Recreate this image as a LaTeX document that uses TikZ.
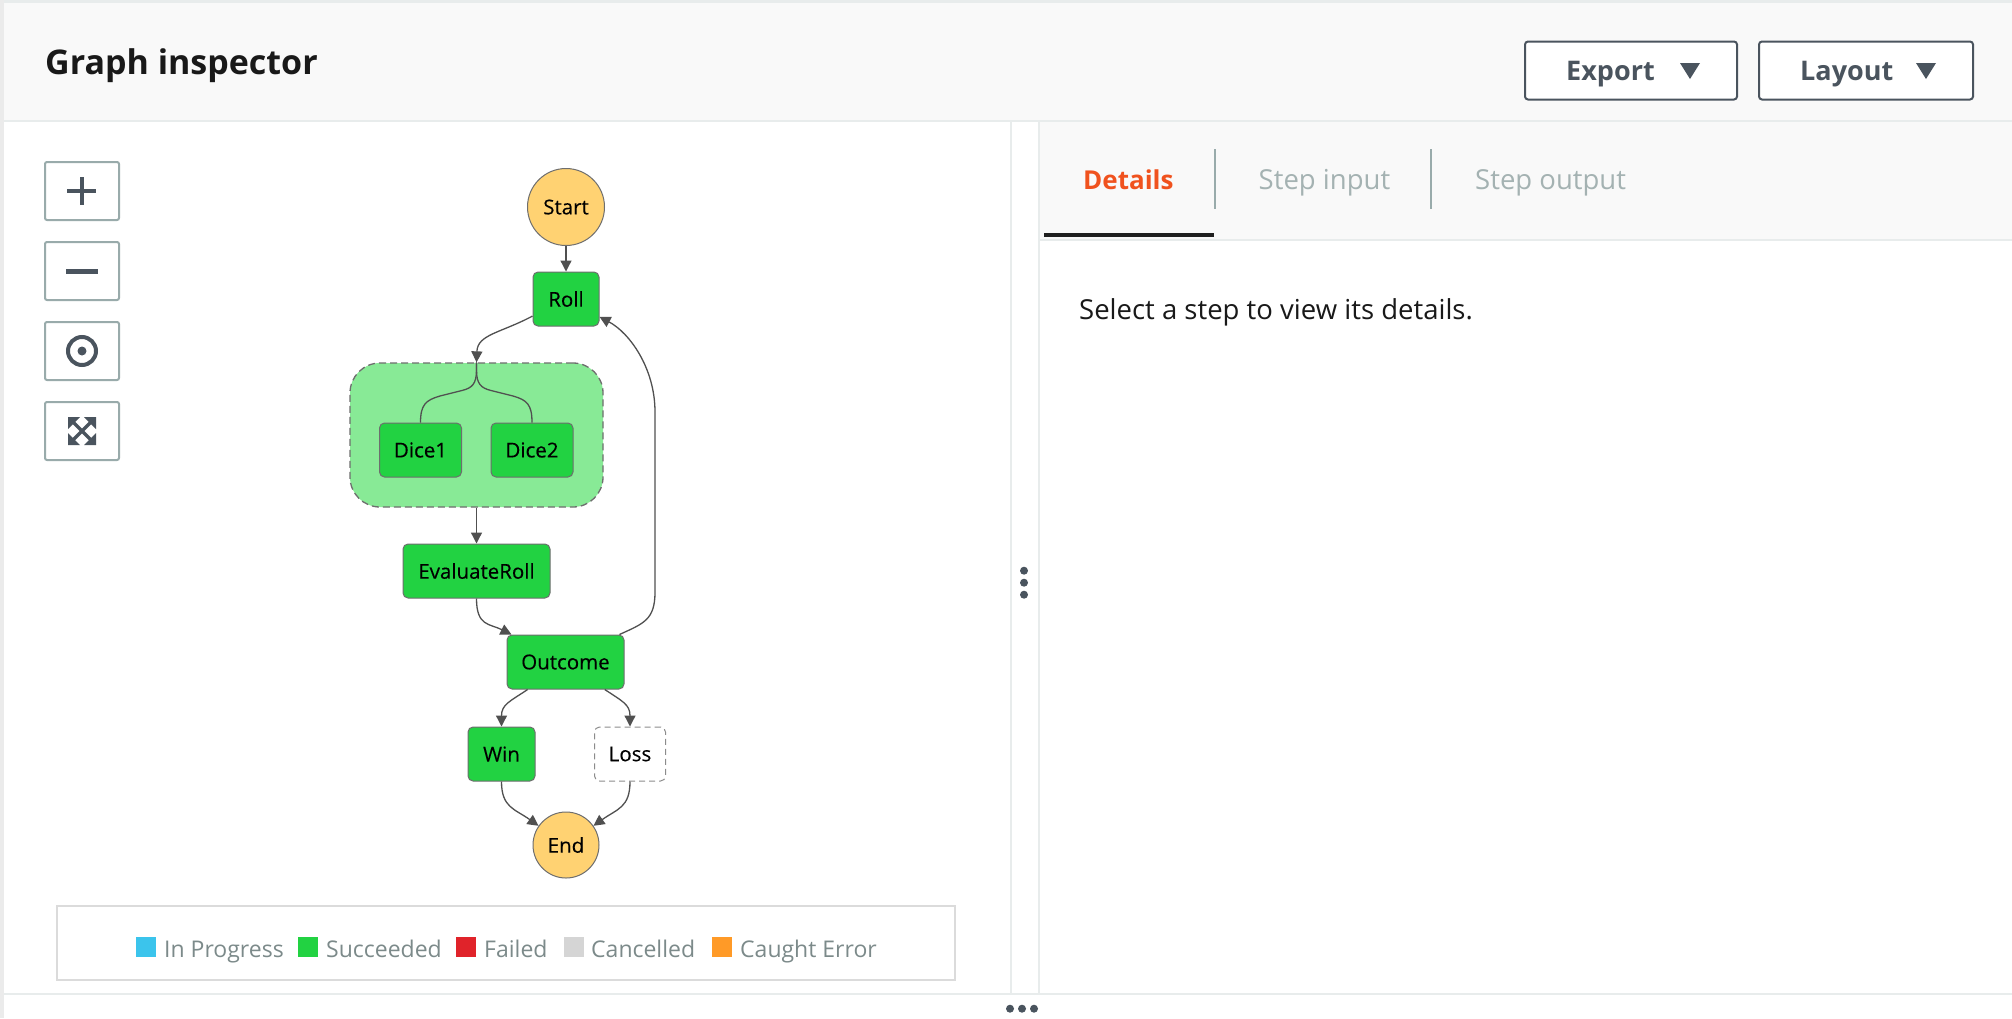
\documentclass[tikz,border=0pt]{standalone}
\usepackage{fontspec}
\setmainfont{Open Sans}
\newfontfamily\nodefont[FakeBold=0.25]{Open Sans}
\usetikzlibrary{arrows.meta,calc}
\definecolor{sgreen}{HTML}{22D242}
\definecolor{sgroup}{HTML}{88EA96}
\definecolor{yel}{HTML}{FFD272}
\definecolor{edge}{HTML}{505050}
\definecolor{bord}{HTML}{6E6E6E}
\definecolor{panel}{HTML}{F9F9F9}
\definecolor{rule}{HTML}{E8ECEC}
\definecolor{slate}{HTML}{4A545E}
\definecolor{btn}{HTML}{99ABAB}
\definecolor{legend}{HTML}{7C8A8A}
\definecolor{tabgray}{HTML}{A4B2B2}
\definecolor{dettab}{HTML}{F0521E}
\definecolor{swblue}{HTML}{3BC4EC}
\definecolor{swred}{HTML}{E0232A}
\definecolor{swgray}{HTML}{D5D5D5}
\definecolor{sworange}{HTML}{FF9A27}
\newcommand{\fs}[1]{\fontsize{#1}{#1}\selectfont}
\tikzset{
  stepbox/.style={rectangle,rounded corners=5pt,draw=bord,fill=sgreen,line width=1pt,inner sep=0pt,font=\nodefont\fs{20.5},text=black},
  endcircle/.style={circle,draw=bord,fill=yel,line width=1pt,inner sep=0pt,font=\nodefont\fs{20.5},text=black},
  conn/.style={draw=edge,line width=1.3pt,-{Triangle[length=11pt,width=11pt]}},
  plainconn/.style={draw=edge,line width=1.3pt},
  toolbtn/.style={rectangle,rounded corners=2pt,draw=btn,fill=white,line width=2pt,inner sep=0pt,minimum width=74pt,minimum height=58pt},
  headbtn/.style={rectangle,rounded corners=3pt,draw=slate,fill=white,line width=2pt,inner sep=0pt,minimum height=58pt},
  icon/.style={draw=slate,line width=4.5pt},
  swatch/.style={rectangle,inner sep=0pt,minimum width=20pt,minimum height=20pt},
  legendtext/.style={anchor=base west,inner sep=0pt,text=legend,font=\fs{23}},
  tabtext/.style={anchor=base west,inner sep=0pt,font=\fs{27.5}},
  dot/.style={circle,fill=slate,inner sep=0pt,minimum size=8pt}
}
\begin{document}
\begin{tikzpicture}[x=1pt,y=-1pt]
\useasboundingbox (0,0) rectangle (2012,1018);
\fill[white] (0,0) rectangle (2012,1018);
% header and panels
\fill[panel] (4,3) rectangle (2012,120);
\fill[panel] (1039,120) rectangle (2012,240);
\draw[rule,line width=2.5pt] (0,1.5) -- (2012,1.5);
\fill[black!8] (0,0) rectangle (3.5,1018);
\draw[rule,line width=2pt] (4,120.5) -- (2012,120.5);
\draw[rule,line width=2pt] (1039,240) -- (2012,240);
\draw[rule,line width=2pt] (1011,120) -- (1011,994);
\draw[rule,line width=2pt] (1039,120) -- (1039,994);
\draw[rule,line width=2pt] (4,994) -- (2012,994);
\node[anchor=base west,inner sep=0pt,font=\fs{34}\bfseries,text=black!90] (title) at (45,74) {Graph inspector};
% header buttons
\node[headbtn,minimum width=212pt] (export) at (1631,70.5) {};
\node[headbtn,minimum width=214pt] (layout) at (1866,70.5) {};
\node[anchor=base west,inner sep=0pt,font=\fs{27}\bfseries,text=slate] (exporttext) at (1566,80) {Export};
\node[anchor=base west,inner sep=0pt,font=\fs{27}\bfseries,text=slate] (layouttext) at (1800,80) {Layout};
\fill[slate] (1680,63) -- (1700,63) -- (1690,79) -- cycle;
\fill[slate] (1916,63) -- (1936,63) -- (1926,79) -- cycle;
% tabs
\node[tabtext,font=\fs{26}\bfseries,text=dettab] (details) at (1083,189) {Details};
\node[tabtext,text=tabgray] (stepin) at (1258.5,189) {Step input};
\node[tabtext,text=tabgray] (stepout) at (1475,189) {Step output};
\draw[btn,line width=1.5pt] (1215,149) -- (1215,209);
\draw[btn,line width=1.5pt] (1431,149) -- (1431,209);
\fill[black!88] (1044,233) rectangle (1214,237);
\node[tabtext,text=black!90] (selecttext) at (1079,319) {Select a step to view its details.};
% tool buttons
\node[toolbtn] (plusbtn) at (82,191) {};
\node[toolbtn] (minusbtn) at (82,271) {};
\node[toolbtn] (centerbtn) at (82,351) {};
\node[toolbtn] (fitbtn) at (82,431) {};
\draw[icon] (67,191) -- (96,191) (82,177) -- (82,205);
\draw[icon,line width=5pt] (66,271) -- (98,271);
\draw[icon,line width=4pt] (82,351) circle (14pt);
\fill[slate] (82,351) circle (4.5pt);
\fill[slate] (68,417) -- (80,417) -- (68,429) -- cycle;
\fill[slate] (96,417) -- (84,417) -- (96,429) -- cycle;
\fill[slate] (68,445) -- (80,445) -- (68,433) -- cycle;
\fill[slate] (96,445) -- (84,445) -- (96,433) -- cycle;
\draw[slate,line width=3.5pt] (71,420) -- (93,442) (93,420) -- (71,442);
% graph
\node[rectangle,rounded corners=30pt,draw=bord,dashed,dash pattern=on 7pt off 4pt,fill=sgroup,line width=1.3pt,inner sep=0pt,minimum width=253pt,minimum height=144pt] (group) at (476.5,435) {};
\node[endcircle,minimum size=77pt] (start) at (566,207) {Start};
\node[stepbox,minimum width=66pt,minimum height=54pt] (roll) at (566,299) {Roll};
\node[stepbox,minimum width=82pt,minimum height=54pt] (dice1) at (420.5,450) {Dice1};
\node[stepbox,minimum width=82pt,minimum height=54pt] (dice2) at (532,450) {Dice2};
\node[stepbox,minimum width=147pt,minimum height=54pt] (eval) at (476.5,571) {EvaluateRoll};
\node[stepbox,minimum width=117pt,minimum height=54pt] (outcome) at (565.5,662) {Outcome};
\node[stepbox,minimum width=67pt,minimum height=54pt] (win) at (501.5,754) {Win};
\node[stepbox,fill=white,draw=black!45,dashed,dash pattern=on 6pt off 4pt,minimum width=71pt,minimum height=54pt] (loss) at (630,754) {Loss};
\node[endcircle,minimum size=66pt] (end) at (566,845) {End};
% connectors
\draw[conn] (start.south) -- (roll.north);
\draw[conn] (roll.207) .. controls +(-32,17) and ($(group.north)+(1,-28)$) .. (group.north);
\coordinate (forkstem) at (476.5,370);
\coordinate (forkla) at (462,390.5);
\coordinate (forklb) at (440,396);
\coordinate (forkra) at (491,390.5);
\coordinate (forkrb) at (513,396);
\draw[plainconn] (group.north) -- (forkstem) .. controls +(0,14) and ($(forkla)+(10,-2.5)$) .. (forkla) -- (forklb) .. controls +(-14,4) and ($(dice1.north)+(0,-18)$) .. (dice1.north);
\draw[plainconn] (group.north) -- (forkstem) .. controls +(0,14) and ($(forkra)+(-10,-2.5)$) .. (forkra) -- (forkrb) .. controls +(14,4) and ($(dice2.north)+(0,-18)$) .. (dice2.north);
\draw[conn] (group.south) -- (eval.north);
\draw[conn] (eval.south) .. controls +(0,28) and ($(outcome.153)+(-22,-11)$) .. (outcome.153);
\coordinate (backlow) at (655,592);
\coordinate (backhigh) at (655,412);
\draw[conn] (outcome.27) .. controls +(24,-11) and ($(backlow)+(0,28)$) .. (backlow) -- (backhigh) .. controls +(0,-44) and ($(roll.-28)+(30,16)$) .. (roll.-28);
\draw[conn] (outcome.216) .. controls +(-18,12) and ($(win.north)+(0,-22)$) .. (win.north);
\draw[conn] (outcome.-35) .. controls +(18,12) and ($(loss.north)+(0,-22)$) .. (loss.north);
\draw[conn] (win.south) .. controls +(0,26) and ($(end.145)+(-24,-17)$) .. (end.145);
\draw[conn] (loss.south) .. controls +(0,26) and ($(end.35)+(24,-17)$) .. (end.35);
% legend
\node[rectangle,draw=black!14,line width=2pt,fill=white,inner sep=0pt,minimum width=898pt,minimum height=74pt] (legendbox) at (506,943) {};
\node[swatch,fill=swblue] (sw1) at (146,947) {};
\node[swatch,fill=sgreen] (sw2) at (308,947) {};
\node[swatch,fill=swred] (sw3) at (466,947) {};
\node[swatch,fill=swgray] (sw4) at (574,947) {};
\node[swatch,fill=sworange] (sw5) at (722,947) {};
\node[legendtext] (lg1) at (164,957) {In Progress};
\node[legendtext] (lg2) at (326,957) {Succeeded};
\node[legendtext] (lg3) at (484,957) {Failed};
\node[legendtext] (lg4) at (591,957) {Cancelled};
\node[legendtext] (lg5) at (740,957) {Caught Error};
% splitter dots
\node[dot] (v1) at (1024,570.7) {};
\node[dot] (v2) at (1024,582.7) {};
\node[dot] (v3) at (1024,594.7) {};
\node[dot] (h1) at (1010,1008.7) {};
\node[dot] (h2) at (1022,1008.7) {};
\node[dot] (h3) at (1034,1008.7) {};
\end{tikzpicture}
\end{document}
